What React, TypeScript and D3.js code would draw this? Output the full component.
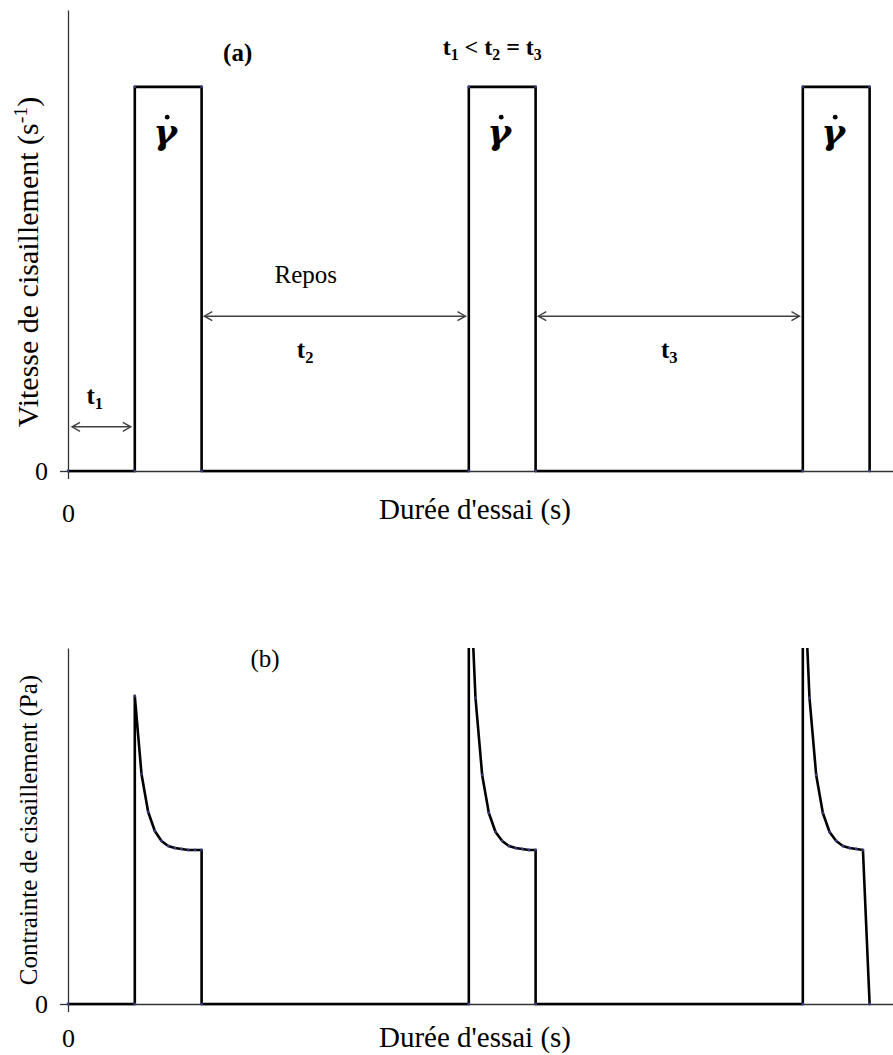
import React, { useEffect, useRef } from 'react';
import * as d3 from 'd3';

// panel (a): shear rate steps
const timeA = [0, 1, 1, 2, 2, 6, 6, 7, 7, 11, 11, 12, 12];
const rateA = [0, 0, 1, 1, 0, 0, 1, 1, 0, 0, 1, 1, 0];

// panel (b): shear stress response
const timeB = [
    0, 1, 1, 1.1, 1.2, 1.3, 1.4, 1.5, 1.6, 1.7, 1.8, 1.9, 2, 2,
    6, 6, 6.1, 6.2, 6.3, 6.4, 6.5, 6.6, 6.7, 6.8, 6.9, 7, 7,
    11, 11, 11.1, 11.2, 11.3, 11.4, 11.5, 11.6, 11.7, 11.8, 11.9, 12
];
const stressB = [
    0, 0, 3.08, 2.3, 1.92, 1.73, 1.63, 1.58, 1.56, 1.55, 1.54, 1.54, 1.54, 0,
    0, 4.6, 3.06, 2.29, 1.91, 1.72, 1.63, 1.58, 1.56, 1.55, 1.54, 1.54, 0,
    0, 4.6, 3.06, 2.29, 1.91, 1.72, 1.63, 1.58, 1.56, 1.55, 1.54, 0
];

const pulseCenters = [1.5, 6.5, 11.5];

const FONT = 'Liberation Serif';

export default function App() {
    const svgRef = useRef<SVGSVGElement>(null);

    useEffect(() => {
        const svg = d3.select(svgRef.current);
        svg.selectAll('*').remove();

        const x = d3.scaleLinear().domain([0, 12.35]).range([68, 893]);
        const yA = d3.scaleLinear().domain([0, 1.2]).range([471, 10]);
        const yB = d3.scaleLinear().domain([0, 3.56]).range([1004, 648]);

        svg.append('defs').append('clipPath').attr('id', 'clipB')
            .append('rect').attr('x', 60).attr('y', yB(3.56)).attr('width', 840).attr('height', 370);

        const drawAxes = (y: d3.ScaleLinear<number, number>, padX: number) => {
            const ya = svg.append('g').attr('transform', `translate(${x(0)},0)`)
                .call(d3.axisLeft(y).tickValues([0]).tickSize(8).tickSizeOuter(0).tickPadding(12).tickFormat(() => '0'));
            const xa = svg.append('g').attr('transform', `translate(0,${y(0)})`)
                .call(d3.axisBottom(x).tickValues([0]).tickSize(8).tickSizeOuter(0).tickPadding(padX).tickFormat(() => '0'));
            [ya, xa].forEach((a) => {
                a.attr('font-family', null).attr('font-size', null);
                a.selectAll('path,line').attr('stroke', '#333').attr('stroke-width', 1.3);
                a.selectAll('text').style('font-family', FONT).style('font-size', '26px').attr('fill', '#000');
            });
        };

        const drawSeries = (ts: number[], vs: number[], y: d3.ScaleLinear<number, number>, clip?: string) => {
            const pts = ts.map((t, i) => [t, vs[i]] as [number, number]);
            const g = svg.append('g');
            if (clip) g.attr('clip-path', `url(#${clip})`);
            g.append('path')
                .datum(pts)
                .attr('fill', 'none')
                .attr('stroke', '#000')
                .attr('stroke-width', 2.6)
                .attr('stroke-linejoin', 'round')
                .attr('d', d3.line<[number, number]>().x((d) => x(d[0])).y((d) => y(d[1])));
            g.selectAll('circle').data(pts).enter().append('circle')
                .attr('cx', (d) => x(d[0])).attr('cy', (d) => y(d[1])).attr('r', 1.4)
                .attr('fill', '#3a3a80');
        };

        const label = (tx: number, ty: number, size: number, parts: [string, string?][], bold = false) => {
            const t = svg.append('text').attr('x', tx).attr('y', ty)
                .attr('text-anchor', 'middle')
                .style('font-family', FONT).style('font-size', `${size}px`)
                .style('font-weight', bold ? 'bold' : 'normal').attr('fill', '#000');
            parts.forEach(([s, kind]) => {
                const sp = t.append('tspan').text(s);
                if (kind === 'sub') sp.style('font-size', `${size * 0.66}px`).attr('dy', 5);
                if (kind === 'back') sp.attr('dy', -5);
                if (kind === 'sup') sp.style('font-size', `${size * 0.66}px`).attr('dy', -11);
                if (kind === 'down') sp.attr('dy', 11);
            });
            return t;
        };

        const arrow = (x1: number, x2: number, yy: number) => {
            const g = svg.append('g').attr('stroke', '#404040').attr('stroke-width', 1.4).attr('fill', 'none');
            g.append('line').attr('x1', x1).attr('x2', x2).attr('y1', yy).attr('y2', yy);
            g.append('path').attr('d', `M${x1 + 8},${yy - 4.5}L${x1},${yy}L${x1 + 8},${yy + 4.5}`);
            g.append('path').attr('d', `M${x2 - 8},${yy - 4.5}L${x2},${yy}L${x2 - 8},${yy + 4.5}`);
        };

        // ---- panel (a)
        drawAxes(yA, 25);
        drawSeries(timeA, rateA, yA);

        pulseCenters.forEach((c) => {
            svg.append('text').attr('x', x(c) - 3).attr('y', yA(0.852))
                .attr('text-anchor', 'middle')
                .style('font-family', 'DejaVu Serif').style('font-style', 'italic').style('font-weight', 'bold')
                .style('font-size', '36px').text('γ');
            svg.append('circle').attr('cx', x(c) - 1).attr('cy', yA(0.921)).attr('r', 2.4).attr('fill', '#000');
        });

        label(x(2.54), 61, 25, [['(a)']], true);
        label(x(6.35), 55, 24, [['t'], ['1', 'sub'], [' < t', 'back'], ['2', 'sub'], [' = t', 'back'], ['3', 'sub']], true);
        label(x(3.56), 283, 25, [['Repos']]);
        label(x(3.55), 358, 25, [['t'], ['2', 'sub']], true);
        label(x(9.0), 358, 25, [['t'], ['3', 'sub']], true);
        label(x(0.4), 404, 25, [['t'], ['1', 'sub']], true);

        arrow(x(0.06), x(0.94), yA(0.115));
        arrow(x(2.04), x(5.95), yA(0.403));
        arrow(x(7.04), x(10.95), yA(0.403));

        label(475, 519, 29, [['Durée d\'essai (s)']]);
        label(0, 0, 30, [['Vitesse de cisaillement (s'], ['-1', 'sup'], [')', 'down']])
            .attr('transform', `translate(38,262) rotate(-90)`);

        // ---- panel (b)
        drawAxes(yB, 17);
        drawSeries(timeB, stressB, yB, 'clipB');

        label(x(2.95), 667, 25, [['(b)']]);
        label(475, 1047, 29, [['Durée d\'essai (s)']]);
        label(0, 0, 25, [['Contrainte de cisaillement (Pa)']])
            .attr('transform', `translate(37,830) rotate(-90)`);
    }, []);

    return (
        <svg ref={svgRef} width={893} height={1055}
            style={{ position: 'absolute', left: 0, top: 0, background: '#fff' }} />
    );
}
